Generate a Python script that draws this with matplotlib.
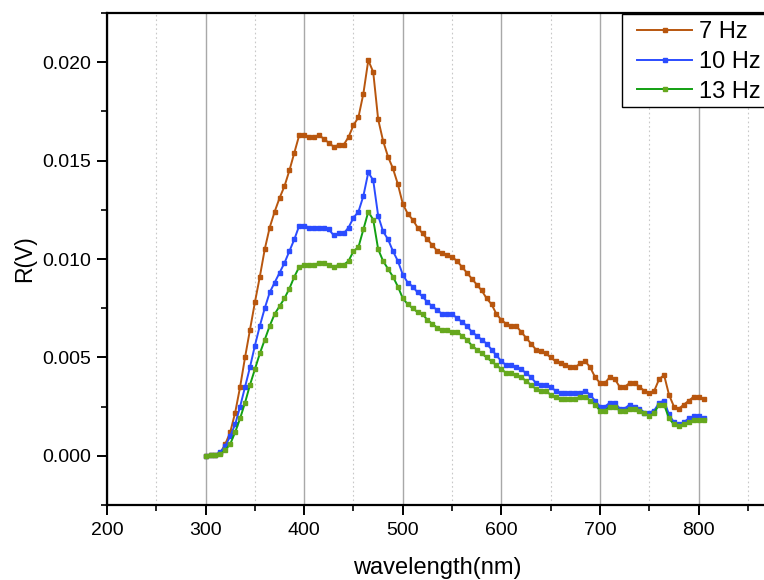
import numpy as np
import matplotlib
matplotlib.use("Agg")
import matplotlib.pyplot as plt
from matplotlib.ticker import MultipleLocator
from matplotlib.patches import Rectangle

plt.rcParams['font.family'] = ['Liberation Sans', 'DejaVu Sans']

wavelength = np.arange(300, 810, 5)

r_7hz = [
    0.0000, 0.00003, 0.00005, 0.00015, 0.0006, 0.0012, 0.0022, 0.0035, 0.0050, 0.0064,
    0.0078, 0.0091, 0.0105, 0.0116, 0.0124, 0.0131, 0.0137, 0.0145, 0.0154, 0.0163,
    0.0163, 0.0162, 0.0162, 0.0163, 0.0161, 0.0159, 0.0157, 0.0158, 0.0158, 0.0162,
    0.0168, 0.0172, 0.0184, 0.0201, 0.0195, 0.0171, 0.0160, 0.0152, 0.0146, 0.0138,
    0.0128, 0.0123, 0.0120, 0.0116, 0.0113, 0.0110, 0.0107, 0.0104, 0.0103, 0.0102,
    0.0101, 0.0099, 0.0096, 0.0093, 0.0090, 0.0087, 0.0084, 0.0080, 0.0077, 0.0072,
    0.0069, 0.0067, 0.0066, 0.0066, 0.0063, 0.0060, 0.0057, 0.0054, 0.0053, 0.0052,
    0.0050, 0.0048, 0.0047, 0.0046, 0.0045, 0.0045, 0.0047, 0.0048, 0.0045, 0.0040,
    0.0037, 0.0037, 0.0040, 0.0039, 0.0035, 0.0035, 0.0037, 0.0037, 0.0035, 0.0033,
    0.0032, 0.0033, 0.0039, 0.0041, 0.0031, 0.0025, 0.0024, 0.0026, 0.0028, 0.0030,
    0.0030, 0.0029,
]

r_10hz = [
    0.0000, 0.00003, 0.00005, 0.0002, 0.0005, 0.0010, 0.0016, 0.0025, 0.0035, 0.0045,
    0.0056, 0.0066, 0.0075, 0.0083, 0.0088, 0.0093, 0.0098, 0.0104, 0.0110, 0.0117,
    0.0117, 0.0116, 0.0116, 0.0116, 0.0116, 0.0115, 0.0112, 0.0113, 0.0113, 0.0116,
    0.0121, 0.0124, 0.0132, 0.0144, 0.0140, 0.0122, 0.0114, 0.0110, 0.0104, 0.0099,
    0.0092, 0.0088, 0.0086, 0.0083, 0.0081, 0.0078, 0.0076, 0.0074, 0.0072, 0.0072,
    0.0072, 0.0070, 0.0068, 0.0066, 0.0063, 0.0061, 0.0059, 0.0057, 0.0054, 0.0051,
    0.0048, 0.0046, 0.0046, 0.0045, 0.0044, 0.0042, 0.0040, 0.0037, 0.0036, 0.0036,
    0.0035, 0.0033, 0.0032, 0.0032, 0.0032, 0.0032, 0.0032, 0.0033, 0.0031, 0.0028,
    0.0025, 0.0025, 0.0027, 0.0027, 0.0024, 0.0024, 0.0026, 0.0025, 0.0024, 0.0022,
    0.0022, 0.0023, 0.0027, 0.0028, 0.0021, 0.0017, 0.0016, 0.0017, 0.0019, 0.0020,
    0.0020, 0.0019,
]

r_13hz = [
    0.0000, 0.00002, 0.00003, 0.00008, 0.0003, 0.0006, 0.0012, 0.0019, 0.0027, 0.0036,
    0.0044, 0.0052, 0.0059, 0.0066, 0.0072, 0.0076, 0.0080, 0.0085, 0.0091, 0.0096,
    0.0097, 0.0097, 0.0097, 0.0098, 0.0098, 0.0097, 0.0096, 0.0097, 0.0097, 0.0099,
    0.0104, 0.0106, 0.0115, 0.0124, 0.0120, 0.0105, 0.0099, 0.0095, 0.0091, 0.0086,
    0.0080, 0.0077, 0.0075, 0.0073, 0.0072, 0.0069, 0.0067, 0.0065, 0.0064, 0.0064,
    0.0063, 0.0063, 0.0061, 0.0059, 0.0056, 0.0054, 0.0052, 0.0050, 0.0048, 0.0046,
    0.0044, 0.0042, 0.0042, 0.0041, 0.0040, 0.0038, 0.0036, 0.0034, 0.0033, 0.0033,
    0.0031, 0.0030, 0.0029, 0.0029, 0.0029, 0.0029, 0.0030, 0.0030, 0.0028, 0.0026,
    0.0023, 0.0023, 0.0025, 0.0025, 0.0023, 0.0023, 0.0024, 0.0024, 0.0023, 0.0022,
    0.0020, 0.0022, 0.0026, 0.0026, 0.0019, 0.0016, 0.0015, 0.0016, 0.0017, 0.0018,
    0.0018, 0.0018,
]

series_labels = ['7 Hz', '10 Hz', '13 Hz']

W, H = 764, 580
fig = plt.figure(figsize=(W / 100, H / 100), dpi=100)
x0_px, top_px, bot_px = 107, 13, 505
xmax = 870
px_per_nm = (698 - 205) / 500.0
right_px = x0_px + (xmax - 200) * px_per_nm
ax = fig.add_axes([x0_px / W, 1 - bot_px / H, (right_px - x0_px) / W, (bot_px - top_px) / H])

styles = [
    dict(color='#B8560E', mfc='#B8560E', mec='#B8560E'),
    dict(color='#2B4CFF', mfc='#2B4CFF', mec='#2B4CFF'),
    dict(color='#12A012', mfc='#66A81E', mec='#66A81E'),
]
for vals, lab, st in zip([r_7hz, r_10hz, r_13hz], series_labels, styles):
    ax.plot(wavelength, vals, '-', marker='s', markersize=2.6, linewidth=1.4,
            color=st['color'], markerfacecolor=st['mfc'], markeredgecolor=st['mec'],
            label=lab, zorder=3)

ax.set_xlim(200, xmax)
ax.set_ylim(-0.0025, 0.0225)
ax.xaxis.set_major_locator(MultipleLocator(100))
ax.xaxis.set_minor_locator(MultipleLocator(50))
ax.yaxis.set_major_locator(MultipleLocator(0.005))
ax.yaxis.set_minor_locator(MultipleLocator(0.0025))
ax.yaxis.set_major_formatter(matplotlib.ticker.FormatStrFormatter('%.3f'))

ax.grid(True, axis='x', which='major', color='#A8A8A8', linewidth=1.0, linestyle='-', zorder=0)
ax.grid(True, axis='x', which='minor', color='#C8C8C8', linewidth=0.8, linestyle=(0, (1.5, 2.5)), zorder=0)
ax.set_axisbelow(True)

for s in ['left', 'bottom', 'top', 'right']:
    ax.spines[s].set_linewidth(1.6)
ax.tick_params(axis='both', which='major', direction='out', length=7, width=1.4, labelsize=14)
ax.tick_params(axis='x', which='major', pad=5)
ax.tick_params(axis='y', which='major', pad=4.5)
ax.tick_params(axis='both', which='minor', direction='out', length=4, width=1.2)
ax.tick_params(top=False, right=False, which='both')

ax.set_xlabel('wavelength(nm)', fontsize=17, labelpad=13)
ax.set_ylabel('R(V)', fontsize=16.5, labelpad=4)

# legend (frame drawn separately so the inner padding can match the reference)
leg = fig.legend(loc='upper left', bbox_to_anchor=(637 / W, 1 - 21 / H), borderaxespad=0,
                 fontsize=17, frameon=False, numpoints=1, handlelength=2.33,
                 handletextpad=0.3, labelspacing=0.33, borderpad=0)
for h in leg.legend_handles:
    h.set_markersize(2.6)
fig.patches.append(Rectangle((622 / W, 1 - 107 / H), (780 - 622) / W, (107 - 14) / H,
                             transform=fig.transFigure, fill=True, facecolor='white',
                             edgecolor='black', linewidth=1.0, zorder=4))
leg.set_zorder(5)

fig.savefig('out.png', dpi=100)
